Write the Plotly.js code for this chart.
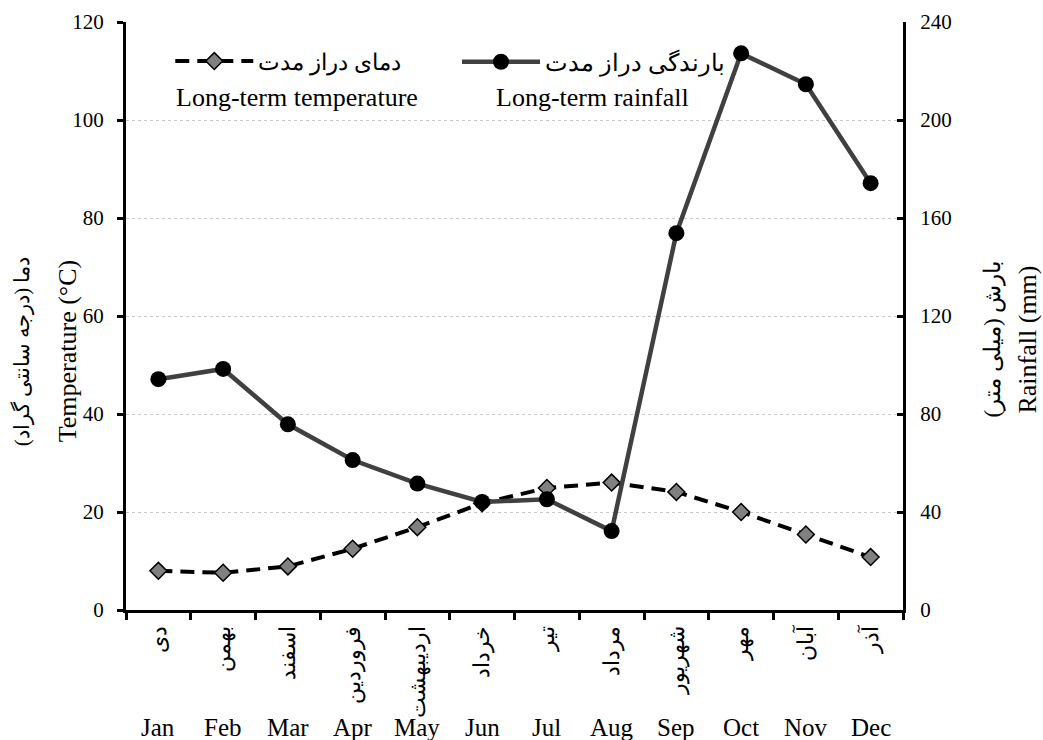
<!DOCTYPE html>
<html>
<head>
<meta charset="utf-8">
<script src="https://cdn.plot.ly/plotly-3.0.1.min.js"></script>
<style>html,body{margin:0;padding:0;background:#fff;}</style>
</head>
<body>
<div id="chart" style="width:1043px;height:740px;"></div>
<script>
const monthsEn = ['Jan','Feb','Mar','Apr','May','Jun','Jul','Aug','Sep','Oct','Nov','Dec'];
const monthsFa = ['دی','بهمن','اسفند','فروردین','اردیبهشت','خرداد','تیر','مرداد','شهریور','مهر','آبان','آذر'];
const temperature = [8.0, 7.6, 8.9, 12.5, 16.9, 21.8, 24.9, 26.0, 24.1, 20.0, 15.4, 10.8];
const rainfall = [94.2, 98.4, 75.8, 61.2, 51.6, 44.1, 45.2, 32.2, 153.8, 227.2, 214.6, 174.2];
const nameTempFa = 'دمای دراز مدت';
const nameRainFa = 'بارندگی دراز مدت';
const nameTempEn = 'Long-term temperature';
const nameRainEn = 'Long-term rainfall';
const titleTempFa = 'دما (درجه سانتی گراد)\u200F';
const titleTempEn = 'Temperature (°C)';
const titleRainFa = 'بارش (میلی متر)\u200F';
const titleRainEn = 'Rainfall (mm)';

const serif = 'Liberation Serif';

const traces = [
  {
    x: monthsFa, y: temperature, name: nameTempFa, type: 'scatter', mode: 'lines+markers',
    yaxis: 'y', legend: 'legend',
    line: {color: '#000000', width: 4, dash: '14px,8px'},
    marker: {symbol: 'diamond', size: 13, color: '#808080', line: {color: '#000000', width: 1.5}}
  },
  {
    x: monthsFa, y: rainfall, name: nameRainFa, type: 'scatter', mode: 'lines+markers',
    yaxis: 'y2', legend: 'legend2',
    line: {color: '#404040', width: 4.5},
    marker: {symbol: 'circle', size: 16, color: '#000000'}
  }
];

const annotations = [];
monthsEn.forEach((m, i) => {
  annotations.push({
    x: monthsFa[i], xref: 'x', y: 0, yref: 'paper', yshift: -102,
    text: m, showarrow: false, xanchor: 'center', yanchor: 'top',
    font: {family: serif, size: 25, color: '#000'}
  });
});
annotations.push(
  {x: 0, xref: 'paper', xshift: -104, y: 0.44, yref: 'paper', text: titleTempFa, textangle: -90,
   showarrow: false, xanchor: 'center', yanchor: 'middle', font: {family: serif, size: 21, color: '#000'}},
  {x: 0, xref: 'paper', xshift: -59, y: 0.44, yref: 'paper', text: titleTempEn, textangle: -90,
   showarrow: false, xanchor: 'center', yanchor: 'middle', font: {family: serif, size: 26, color: '#000'}},
  {x: 1, xref: 'paper', xshift: 90, y: 0.46, yref: 'paper', text: titleRainFa, textangle: -90,
   showarrow: false, xanchor: 'center', yanchor: 'middle', font: {family: serif, size: 23, color: '#000'}},
  {x: 1, xref: 'paper', xshift: 125, y: 0.46, yref: 'paper', text: titleRainEn, textangle: -90,
   showarrow: false, xanchor: 'center', yanchor: 'middle', font: {family: serif, size: 26, color: '#000'}},
  {x: 0.22, xref: 'paper', y: 0.872, yref: 'paper', text: nameTempEn,
   showarrow: false, xanchor: 'center', yanchor: 'middle', font: {family: serif, size: 26, color: '#000'}},
  {x: 0.6, xref: 'paper', y: 0.872, yref: 'paper', text: nameRainEn,
   showarrow: false, xanchor: 'center', yanchor: 'middle', font: {family: serif, size: 26, color: '#000'}}
);

const layout = {
  width: 1043, height: 740,
  margin: {l: 126, r: 140, t: 22, b: 130},
  paper_bgcolor: '#ffffff', plot_bgcolor: '#ffffff',
  font: {family: serif, color: '#000'},
  xaxis: {
    type: 'category', range: [-0.5, monthsFa.length - 0.5], autorange: false,
    tickson: 'boundaries', ticks: 'outside', ticklen: 7, tickwidth: 3, tickcolor: '#000',
    showline: true, linewidth: 3, linecolor: '#000', showgrid: false, zeroline: false,
    tickangle: -90, ticklabelstandoff: 4, tickfont: {family: serif, size: 22, color: '#000'}
  },
  yaxis: {
    range: [0, 120], dtick: 20, ticks: 'outside', ticklen: 6, tickwidth: 3, tickcolor: '#000',
    showline: true, linewidth: 3, linecolor: '#000', zeroline: false,
    showgrid: true, gridcolor: '#c8c8c8', griddash: 'dot', gridwidth: 1,
    ticklabelstandoff: 9, tickfont: {family: serif, size: 21, color: '#000'}
  },
  yaxis2: {
    range: [0, 240], dtick: 40, overlaying: 'y', side: 'right', ticks: 'inside', ticklen: 6, tickwidth: 3,
    tickcolor: '#000', showline: true, linewidth: 3, linecolor: '#000', zeroline: false, showgrid: false,
    ticklabelstandoff: 10, tickfont: {family: serif, size: 21, color: '#000'}
  },
  showlegend: true,
  legend: {x: 0.057, y: 0.97, xanchor: 'left', yanchor: 'top', orientation: 'h', bgcolor: 'rgba(0,0,0,0)',
           itemwidth: 78, font: {family: serif, size: 23, color: '#000'}},
  legend2: {x: 0.426, y: 0.97, xanchor: 'left', yanchor: 'top', orientation: 'h', bgcolor: 'rgba(0,0,0,0)',
           itemwidth: 78, font: {family: serif, size: 24, color: '#000'}},
  annotations: annotations
};

Plotly.newPlot('chart', traces, layout, {displayModeBar: false, staticPlot: true});
</script>
</body>
</html>
